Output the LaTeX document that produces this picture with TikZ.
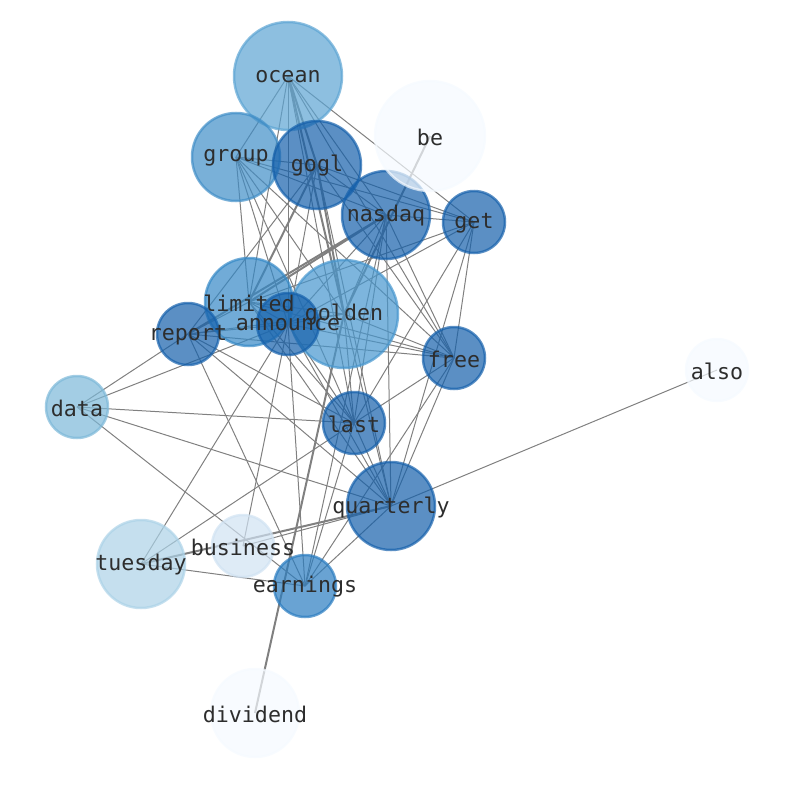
\documentclass[tikz,border=0pt]{standalone}
\usepackage{fontspec}
\setmonofont{DejaVu Sans Mono}
\pgfdeclarelayer{edgelayer}
\pgfdeclarelayer{labellayer}
\pgfsetlayers{edgelayer,main,labellayer}
\definecolor{cDark}{RGB}{21,96,171}
\definecolor{cEarn}{RGB}{42,124,192}
\definecolor{cOcean}{RGB}{92,164,211}
\definecolor{cGroup}{RGB}{64,142,199}
\definecolor{cLim}{RGB}{52,136,198}
\definecolor{cGold}{RGB}{70,150,206}
\definecolor{cData}{RGB}{124,184,216}
\definecolor{cTue}{RGB}{172,210,231}
\definecolor{cBus}{RGB}{208,226,242}
\definecolor{cPale}{RGB}{245,250,255}
\definecolor{edgegray}{RGB}{128,128,128}
\definecolor{txt}{RGB}{45,45,45}
\begin{document}
\begin{tikzpicture}[x=1bp,y=-1bp,
  nd/.style={circle, inner sep=0pt, outer sep=0pt, fill opacity=0.7, draw opacity=0.7, line width=2.5bp, fill=#1, draw=#1},
  lbl/.style={font=\ttfamily\fontsize{21.7}{26}\selectfont, text=txt, inner sep=0pt, yshift=-1bp},
  edgeline/.style={draw=edgegray, line width=1bp},
  thickline/.style={draw=edgegray, line width=2bp}]
\useasboundingbox (0,0) rectangle (794,790);
% nodes (circles)
\node[nd=cOcean, minimum size=108bp] (ocean) at (288,76) {};
\node[nd=cGroup, minimum size=88bp] (group) at (236,157) {};
\node[nd=cDark, minimum size=88bp] (gogl) at (317,165) {};
\node[nd=cDark, minimum size=88bp] (nasdaq) at (386,215) {};
\node[nd=cPale, minimum size=110bp] (be) at (430,136) {};
\node[nd=cDark, minimum size=62bp] (get) at (474,222) {};
\node[nd=cLim, minimum size=88bp] (limited) at (249,302) {};
\node[nd=cGold, minimum size=108bp] (golden) at (344,314) {};
\node[nd=cDark, minimum size=62bp] (announce) at (288,324) {};
\node[nd=cDark, minimum size=62bp] (report) at (188,334) {};
\node[nd=cDark, minimum size=62bp] (free) at (454,358) {};
\node[nd=cPale, minimum size=62bp] (also) at (717,370) {};
\node[nd=cData, minimum size=62bp] (data) at (77,407) {};
\node[nd=cDark, minimum size=62bp] (last) at (354,423) {};
\node[nd=cDark, minimum size=88bp] (quarterly) at (391,506) {};
\node[nd=cBus, minimum size=62bp] (business) at (243,546) {};
\node[nd=cTue, minimum size=88bp] (tuesday) at (141,564) {};
\node[nd=cEarn, minimum size=62bp] (earnings) at (305,586) {};
\node[nd=cPale, minimum size=88bp] (dividend) at (255,713) {};
% edges
\begin{pgfonlayer}{edgelayer}
\foreach \a/\b in {ocean/group, ocean/limited, ocean/nasdaq, ocean/get, ocean/announce, ocean/free, ocean/last,
  group/gogl, group/nasdaq, group/get, group/limited, group/golden, group/last, group/free, group/announce,
  gogl/nasdaq, gogl/get, gogl/announce, gogl/report, gogl/free, gogl/quarterly,
  nasdaq/get, nasdaq/announce, nasdaq/golden, nasdaq/free, nasdaq/last, nasdaq/quarterly, nasdaq/earnings,
  get/limited, get/announce, get/free, get/last, get/quarterly,
  limited/report, limited/announce, limited/golden, limited/free, limited/last, limited/quarterly,
  announce/report, announce/golden, announce/free, announce/last, announce/data, announce/tuesday, announce/business, announce/earnings, announce/quarterly,
  golden/report, golden/free, golden/last, golden/quarterly,
  report/free, report/data, report/last, report/quarterly, report/earnings,
  free/last, free/quarterly, free/earnings,
  data/last, data/quarterly, data/earnings,
  last/tuesday, last/quarterly, last/earnings,
  quarterly/also, quarterly/business, quarterly/earnings,
  tuesday/earnings}
  \draw[edgeline] (\a.center) -- (\b.center);
\foreach \a/\b in {ocean/gogl, ocean/golden, gogl/limited, gogl/golden,
  nasdaq/limited, nasdaq/report, golden/be, golden/dividend, quarterly/tuesday}
  \draw[thickline] (\a.center) -- (\b.center);
\end{pgfonlayer}
% labels
\begin{pgfonlayer}{labellayer}
\foreach \n in {ocean, group, gogl, nasdaq, be, get, limited, golden, announce, report, free, also, data, last, quarterly, business, tuesday, earnings, dividend}
  \node[lbl] (\n-text) at (\n.center) {\n};
\end{pgfonlayer}
\end{tikzpicture}
\end{document}
